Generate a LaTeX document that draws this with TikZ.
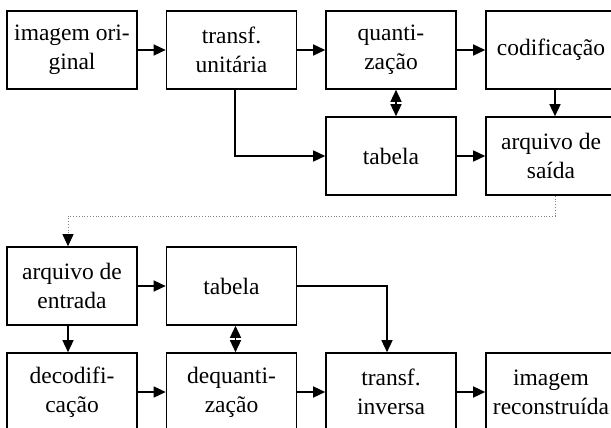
\documentclass[tikz,border=0pt]{standalone}
\usepackage{fontspec}
\setmainfont{Liberation Serif}
\usetikzlibrary{arrows.meta}
\begin{document}
\begin{tikzpicture}[x=1pt,y=-1pt,
  blk/.style={draw,line width=1.6pt,minimum width=130pt,minimum height=78pt,inner sep=0pt,align=center,
    font=\fontsize{23.5}{29}\selectfont},
  arr/.style={line width=1.4pt,-{Triangle[length=12pt,width=11pt]}},
  darr/.style={line width=1.4pt,{Triangle[length=12pt,width=11pt]}-{Triangle[length=12pt,width=11pt]}},
  dot/.style={line width=0.8pt,dotted,gray,-{Triangle[length=12pt,width=11pt,fill=black,black]}}]
\useasboundingbox (0,0) rectangle (611,428);
\clip (0,0) rectangle (611,428);
\node[blk] (a1) at (72,50) {imagem ori-\\ginal};
\node[blk] (a2) at (231.5,50) {transf.\\unitária};
\node[blk] (a3) at (391,50) {quanti-\\zação};
\node[blk] (a4) at (551,50) {codificação};
\node[blk] (t1) at (391,156) {tabela};
\node[blk] (s1) at (551,156) {arquivo de\\saída};
\node[blk] (e1) at (72,286) {arquivo de\\entrada};
\node[blk] (t2) at (231.5,286) {tabela};
\node[blk] (b1) at (72,392) {decodifi-\\cação};
\node[blk] (b2) at (231.5,392) {dequanti-\\zação};
\node[blk] (b3) at (391,392) {transf.\\inversa};
\node[blk] (b4) at (551,392) {imagem\\reconstruída};
\coordinate (d1) at (555,216);
\coordinate (d2) at (68,216);
\draw[arr] (a1) -- (a2);
\draw[arr] (a2) -- (a3);
\draw[arr] (a3) -- (a4);
\draw[arr] ([xshift=3.5pt]a2.south) |- (t1.west);
\draw[darr] ([xshift=5pt]a3.south) -- ([xshift=5pt]t1.north);
\draw[arr] ([xshift=4pt]a4.south) -- ([xshift=4pt]s1.north);
\draw[arr] (t1) -- (s1);
\draw[dot] ([xshift=4pt]s1.south) -- (d1) -- (d2) -- ([xshift=-4pt]e1.north);
\draw[arr] (e1) -- (t2);
\draw[arr] ([xshift=-4pt]e1.south) -- ([xshift=-4pt]b1.north);
\draw[darr] ([xshift=4pt]t2.south) -- ([xshift=4pt]b2.north);
\draw[arr] (t2.east) -| ([xshift=-4pt]b3.north);
\draw[arr] (b1) -- (b2);
\draw[arr] (b2) -- (b3);
\draw[arr] (b3) -- (b4);
\end{tikzpicture}
\end{document}
